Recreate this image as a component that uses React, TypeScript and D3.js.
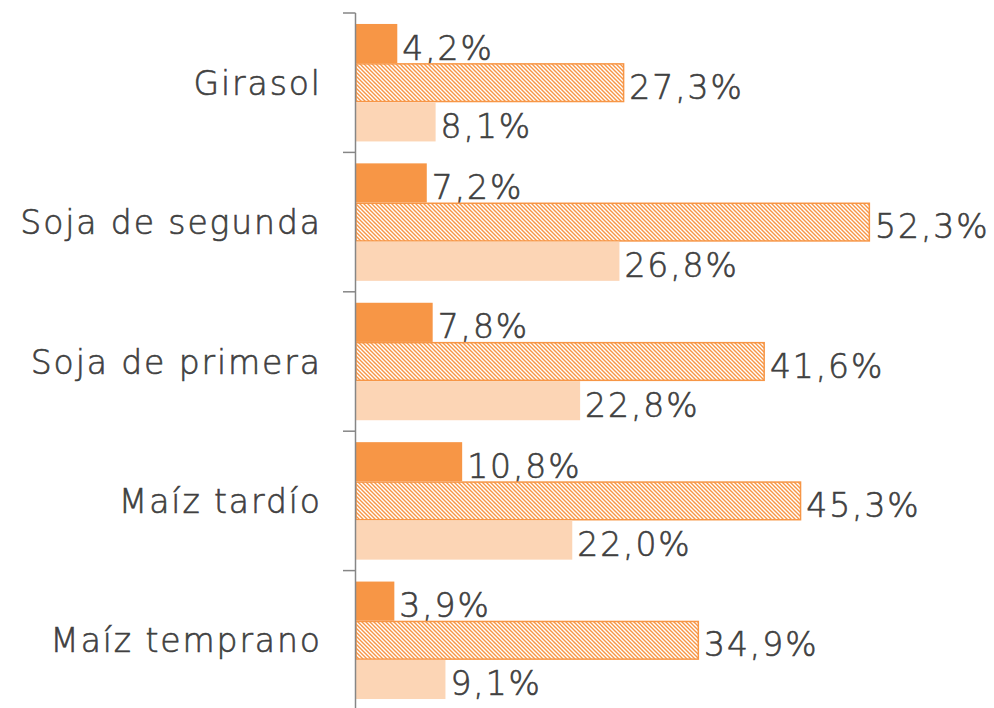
import React from "react";
import * as d3 from "d3";

const categories = ["Girasol", "Soja de segunda", "Soja de primera", "Maíz tardío", "Maíz temprano"];
const seriesA = [4.2, 7.2, 7.8, 10.8, 3.9];
const seriesB = [27.3, 52.3, 41.6, 45.3, 34.9];
const seriesC = [8.1, 26.8, 22.8, 22.0, 9.1];
const seriesKeys = ["a", "b", "c"];

const W = 994;
const H = 708;
const FONT = "'DejaVu Sans', sans-serif";
const FS = 33;
const LS = 1.9;
const TEXT = "#404040";

export default function App() {
  const axisX = 355.5;
  const y = d3.scaleBand<string>().domain(categories).range([13, 710]);
  const inner = d3.scaleBand<string>().domain(seriesKeys).range([0, y.bandwidth()]).paddingOuter(0.28).paddingInner(0);
  const x = d3.scaleLinear().domain([0, 60]).range([356, 356 + 9.83 * 60]);
  const fmt = (v: number) => v.toFixed(1).replace(".", ",") + "%";
  const series = [seriesA, seriesB, seriesC];
  const fills = ["#F79646", "url(#hatch)", "#FCD5B5"];

  return (
    <svg width={W} height={H} style={{ position: "absolute", left: 0, top: 0 }} fontFamily={FONT} fontWeight={200}>
      <defs>
        <pattern id="hatch" width={4} height={4} patternUnits="userSpaceOnUse">
          <rect width={4} height={4} fill="#fff" />
          <path d="M-1,-1 L5,5 M-1,3 L1,5 M3,-1 L5,1" stroke="#F79646" strokeWidth={1.4} />
        </pattern>
      </defs>
      {categories.map((c, i) => {
        const y0 = y(c)!;
        return (
          <g key={c}>
            {series.map((s, k) => {
              const by = y0 + inner(seriesKeys[k])!;
              const bh = inner.bandwidth();
              const w = x(s[i]) - x(0);
              return (
                <g key={k}>
                  {k === 1 ? (
                    <rect x={x(0)} y={by + 0.75} width={w - 0.75} height={bh - 1.5} fill={fills[k]} stroke="#F79646" strokeWidth={1.5} />
                  ) : (
                    <rect x={x(0)} y={by} width={w} height={bh} fill={fills[k]} />
                  )}
                  <text x={x(s[i]) + 5} y={by + bh / 2 + 16} fontSize={FS} letterSpacing={LS} fill={TEXT} stroke={TEXT} strokeWidth={0.6}>
                    {fmt(s[i])}
                  </text>
                </g>
              );
            })}
            <text x={320 + LS} y={y0 + y.bandwidth() / 2 + 12} textAnchor="end" fontSize={FS} letterSpacing={LS} fill={TEXT} stroke={TEXT} strokeWidth={0.6}>
              {c}
            </text>
          </g>
        );
      })}
      <line x1={axisX} x2={axisX} y1={13} y2={H} stroke="#868686" strokeWidth={1.5} />
      {categories.map((c) => (
        <line key={c} x1={343} x2={axisX} y1={y(c)!} y2={y(c)!} stroke="#868686" strokeWidth={1.5} />
      ))}
    </svg>
  );
}
